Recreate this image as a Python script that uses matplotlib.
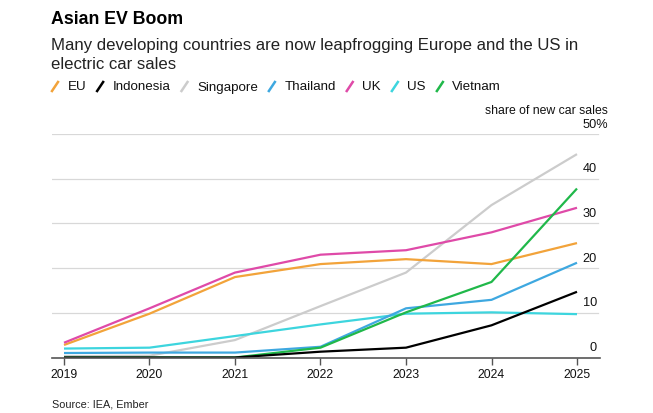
import matplotlib
matplotlib.use("Agg")
import matplotlib.pyplot as plt
from matplotlib.lines import Line2D
from matplotlib.transforms import blended_transform_factory, offset_copy

plt.rcParams['font.family'] = ['Liberation Sans', 'DejaVu Sans']

# Data: share of new car sales that are electric (%)
years = [2019, 2020, 2021, 2022, 2023, 2024, 2025]
eu = [2.8, 9.8, 18.0, 20.9, 22.0, 20.9, 25.6]
indonesia = [0.0, 0.0, 0.0, 1.3, 2.2, 7.2, 14.7]
singapore = [0.3, 0.4, 3.9, 11.5, 19.0, 34.1, 45.5]
thailand = [1.0, 1.1, 1.1, 2.4, 11.0, 12.9, 21.2]
uk = [3.3, 11.0, 19.0, 23.0, 24.0, 28.0, 33.5]
us = [2.0, 2.2, 4.8, 7.4, 9.8, 10.1, 9.7]
vietnam = [0.0, 0.0, 0.0, 2.2, 10.1, 16.9, 37.8]

series_names = ["EU", "Indonesia", "Singapore", "Thailand", "UK", "US", "Vietnam"]
series_values = [eu, indonesia, singapore, thailand, uk, us, vietnam]
colors = ["#f2a33a", "#000000", "#cccccc", "#3ea8e0", "#df4aa8", "#3dd5de", "#20b84a"]

y_ticks = [0, 10, 20, 30, 40, 50]
y_labels = ["0", "10", "20", "30", "40", "50%"]

W, H = 653, 414
fig = plt.figure(figsize=(W / 100, H / 100), dpi=100)
ax = fig.add_axes([52 / W, 1 - 358.5 / H, 548 / W, 223.5 / H])
renderer = fig.canvas.get_renderer()

# draw order: grey in back, then others
order = [2, 5, 3, 0, 4, 6, 1]
for i in order:
    ax.plot(years, series_values[i], color=colors[i], lw=1.6, solid_capstyle="butt",
            zorder=3 + order.index(i) * 0.1)

ax.set_xlim(2019 - 12 / 85.5, 2025 + 23 / 85.5)
ax.set_ylim(0, 50)

for s in ["top", "right", "left"]:
    ax.spines[s].set_visible(False)
ax.spines["bottom"].set_color("#555555")
ax.spines["bottom"].set_linewidth(1.2)
ax.spines["bottom"].set_zorder(5)

ax.set_xticks(years)
ax.set_xticklabels([str(y) for y in years])
ax.tick_params(axis="x", length=5, width=1, color="#555555", labelsize=8.8, pad=2.5,
               labelcolor="#111111")
ax.set_yticks([])

for v in y_ticks[1:]:
    ax.axhline(v, color="#d8d8d8", lw=0.9, xmin=0, xmax=546 / 548, zorder=1)

trans = blended_transform_factory(ax.transAxes, ax.transData)
for v, lab in zip(y_ticks, y_labels):
    t = offset_copy(trans, fig=fig, x=0, y=3.2, units="points")
    if lab.endswith("%"):
        pct = fig.text(0, 0, "%", fontsize=9.2)
        pw = pct.get_window_extent(renderer).width
        pct.remove()
        t = offset_copy(trans, fig=fig, x=pw * 72 / 100, y=3.2, units="points")
    ax.text(545 / 548, v, lab, transform=t, ha="right", va="bottom",
            fontsize=9.2, color="#111111")

fig.text(608 / W, 1 - 111 / H, "share of new car sales", ha="right", va="center",
         fontsize=8.8, color="#111111")

# Titles
fig.text(51 / W, 1 - 19 / H, "Asian EV Boom", fontsize=12.8, fontweight="bold",
         ha="left", va="center", color="#000000")
fig.text(51 / W, 1 - 55 / H,
         "Many developing countries are now leapfrogging Europe and the US in\nelectric car sales",
         fontsize=12.1, ha="left", va="center", color="#222222", linespacing=1.38)

# Legend
x = 52
ly = 87.5
for name, c in zip(series_names, colors):
    fig.add_artist(Line2D([x / W, (x + 6) / W], [1 - (ly + 4.5) / H, 1 - (ly - 4.5) / H],
                          color=c, lw=1.8, transform=fig.transFigure))
    tx = x + 15.5
    t = fig.text(tx / W, 1 - ly / H, name, fontsize=9.6, ha="left", va="center",
                 color="#111111")
    w = t.get_window_extent(renderer).width
    x = tx + w + 11

fig.text(52 / W, 1 - 405 / H, "Source: IEA, Ember", fontsize=7.8, ha="left",
         va="center", color="#222222")

fig.savefig("out.png", dpi=100)
